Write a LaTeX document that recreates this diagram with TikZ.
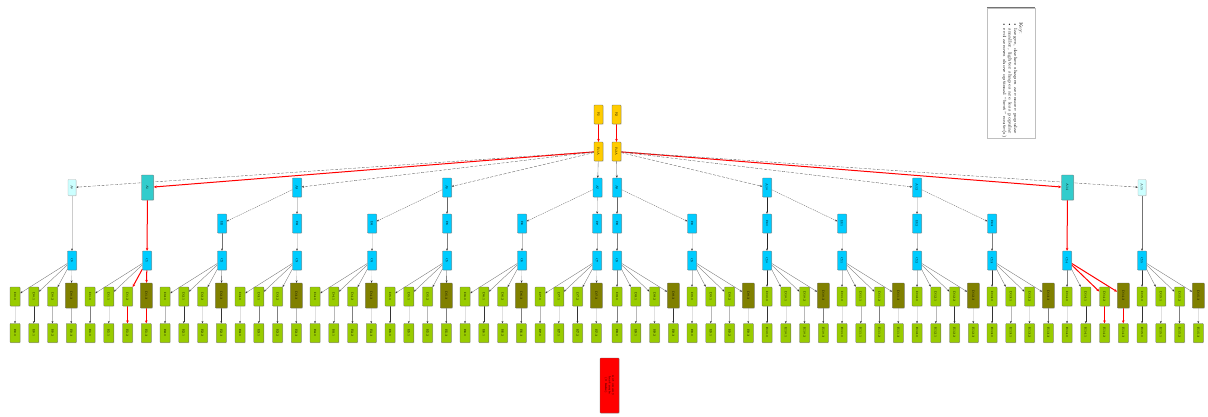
\documentclass[tikz,border=0pt]{standalone}
\usetikzlibrary{arrows.meta,shadows}
\pgfdeclarelayer{bg}
\pgfsetlayers{bg,main}
\definecolor{ygold}{HTML}{FFCC00}
\definecolor{skyc}{HTML}{00CCFF}
\definecolor{tealc}{HTML}{33CCCC}
\definecolor{lcyan}{HTML}{CCFFFF}
\definecolor{limec}{HTML}{99CC00}
\definecolor{olivec}{HTML}{808000}
\newcommand\rt[1]{\rotatebox{-90}{#1}}
\tikzset{
 box/.style={rectangle,rounded corners=0.7pt,draw=black!60,line width=0.3pt,inner sep=0pt,
   font=\fontsize{3}{3.6}\selectfont,
   drop shadow={shadow xshift=0.7pt,shadow yshift=-0.7pt,fill=black!30}},
 yel/.style={box,fill=ygold,minimum width=9pt,minimum height=19pt},
 sk/.style={box,fill=skyc,minimum width=9pt,minimum height=19pt},
 tl/.style={box,fill=tealc,minimum width=12pt,minimum height=25pt},
 lc/.style={box,fill=lcyan,draw=black!30,minimum width=8pt,minimum height=16pt},
 gr/.style={box,fill=limec,minimum width=10pt,minimum height=19pt},
 ol/.style={box,fill=olivec,minimum width=12pt,minimum height=25pt},
 rb/.style={box,fill=red,minimum width=19pt,minimum height=55pt},
 e/.style={-{Stealth[length=2.4pt,width=1.9pt,color=black!80]},line width=0.35pt},
 re/.style={-{Stealth[length=3pt,width=2.6pt,color=red]},color=red,line width=1pt},
 dsh/.style={e,draw=black!65,dash pattern=on 3pt off 1.5pt},
 dot/.style={e,draw=black!60,dash pattern=on 1.2pt off 0.8pt},
}
\begin{document}
\begin{tikzpicture}[x=1pt,y=-1pt]
\useasboundingbox (0,0) rectangle (1208,416);
% level 0
\node[yel] (t1) at (598.5,114.5) {\rt{R1}};
\node[yel] (t2) at (616.5,114.5) {\rt{R2}};
\node[yel] (u1) at (598.5,151.5) {\rt{R1A}};
\node[yel] (u2) at (616.5,151.5) {\rt{R2A}};
% level 1
\node[lc] (a0) at (72,187.5) {\rt{A0}};
\node[tl] (a1) at (147.5,187.5) {\rt{A1}};
\node[sk] (a3) at (297,187.5) {\rt{A3}};
\node[sk] (a5) at (447,187.5) {\rt{A5}};
\node[sk] (a7) at (597.5,187.5) {\rt{A7}};
\node[sk] (a8) at (617,187.5) {\rt{A8}};
\node[sk] (a10) at (767,187.5) {\rt{A10}};
\node[sk] (a12) at (917,187.5) {\rt{A12}};
\node[tl] (a14) at (1067.5,187.5) {\rt{A14}};
\node[lc] (a15) at (1142,187.5) {\rt{A15}};
% level 2
\foreach \k in {2,...,13}{
  \ifnum\k<8 \pgfmathsetmacro\cx{72+75*\k}\else\pgfmathsetmacro\cx{617+75*(\k-8)}\fi
  \node[sk] (b\k) at (\cx,223.5) {\rt{B\k}};
}
% level 3
\foreach \k in {0,...,15}{
  \ifnum\k<8 \pgfmathsetmacro\cx{72+75*\k}\else\pgfmathsetmacro\cx{617+75*(\k-8)}\fi
  \node[sk] (c\k) at (\cx,260.5) {\rt{C\k}};
}
% level 4 and 5
\foreach \k in {0,...,15}{
 \foreach \i in {0,...,3}{
   \ifnum\k<8 \pgfmathsetmacro\cx{15+75*\k+18.75*\i}\else\pgfmathsetmacro\cx{617+75*(\k-8)+18.75*\i}\fi
   \ifnum\i=3 \node[ol] (d\k-\i) at (\cx,295.5) {\rt{D\k.\i}};\else \node[gr] (d\k-\i) at (\cx,296.5) {\rt{D\k.\i}};\fi
   \node[gr] (e\k-\i) at (\cx,333) {\rt{E\k.\i}};
 }}
% red box
\node[rb] (z) at (609.5,385.5) {\rt{\begin{tabular}{@{}c@{}}not on any\\best route\\(0 links)\end{tabular}}};
% legend
\node[draw=black!25,fill=white,minimum width=48pt,minimum height=130pt,inner sep=0pt] (key) at (1011,73) {};
\draw[black!55,line width=0.9pt] (key.north west) -- (key.north east);
\node[rotate=-90,anchor=north west,align=left,inner sep=0pt,font=\fontsize{4.5}{5.5}\selectfont] (keytext) at (1023,22)
 {Key:\\ \textbullet\ larger, darker shapes are more popular\\ \textbullet\ smaller, lighter shapes are less popular\\ \textbullet\ red arrows show optimal ``best'' route(s)};
% edges
\begin{pgfonlayer}{bg}
\draw[re] (t1) -- (u1);
\draw[re] (t2) -- (u2);
\draw[dsh] (u1) -- (a0);
\draw[re] (u1) -- (a1);
\draw[dsh] (u1) -- (a3);
\draw[dsh] (u1) -- (a5);
\draw[e,draw=black!55] (u1) -- (a7);
\draw[e,draw=black!65] (u2) -- (a8);
\draw[dsh] (u2) -- (a10);
\draw[dsh] (u2) -- (a12);
\draw[re] (u2) -- (a14);
\draw[dsh] (u2) -- (a15);
\foreach \p/\q/\w/\s in {3/2/3/20, 5/4/5/60, 7/6/7/40, 8/9/8/60, 10/11/10/85, 12/13/12/15}{
  \draw[dot] (a\p) -- (b\q);
  \draw[e,draw=black!\s] (a\p) -- (b\w);
}
\draw[e,draw=black!20] (a0) -- (c0);
\draw[re] (a1) -- (c1);
\draw[re] (a14) -- (c14);
\draw[e,draw=black!55] (a15) -- (c15);
\foreach \k/\s in {2/55,3/15,4/12,5/50,6/25,7/25,8/50,9/12,10/85,11/12,12/25,13/50}
  \draw[e,draw=black!\s] (b\k) -- (c\k);
\foreach \k/\s in {0/25,1/50,2/70,3/25,4/12,5/75,6/25,7/25,8/50,9/25,10/85,11/25,12/25,13/80,14/50,15/80}{
 \ifnum\k<8
   \draw[e,draw=black!55] (c\k) -- (d\k-0);
   \draw[e,draw=black!55] (c\k) -- (d\k-1);
   \ifnum\k=1
     \draw[re] (c\k) -- (d\k-2); \draw[re] (c\k) -- (d\k-3);
   \else
     \draw[e,draw=black!55] (c\k) -- (d\k-2); \draw[e,draw=black!\s] (c\k) -- (d\k-3);
   \fi
 \else
   \draw[e,draw=black!\s] (c\k) -- (d\k-0);
   \draw[e,draw=black!55] (c\k) -- (d\k-1);
   \ifnum\k=14
     \draw[re] (c\k) -- (d\k-2); \draw[re] (c\k) -- (d\k-3);
   \else
     \draw[e,draw=black!55] (c\k) -- (d\k-2); \draw[e,draw=black!55] (c\k) -- (d\k-3);
   \fi
 \fi}
\foreach \k/\sa/\sb/\sc/\sd in {0/12/80/28/28, 1/50/12/-1/-1, 2/28/80/12/80, 3/12/50/50/28,
  4/12/28/50/12, 5/80/12/28/50, 6/12/80/12/50, 7/28/12/80/12, 8/50/28/12/80, 9/12/28/28/12,
  10/80/12/28/50, 11/12/28/50/12, 12/12/28/80/12, 13/80/28/12/50, 14/12/80/-1/-1, 15/80/12/50/12}{
 \foreach \i/\s in {0/\sa,1/\sb,2/\sc,3/\sd}{
   \ifnum\s<0 \draw[re] (d\k-\i) -- (e\k-\i); \else \draw[e,draw=black!\s] (d\k-\i) -- (e\k-\i); \fi
 }}
\end{pgfonlayer}
\end{tikzpicture}
\end{document}
